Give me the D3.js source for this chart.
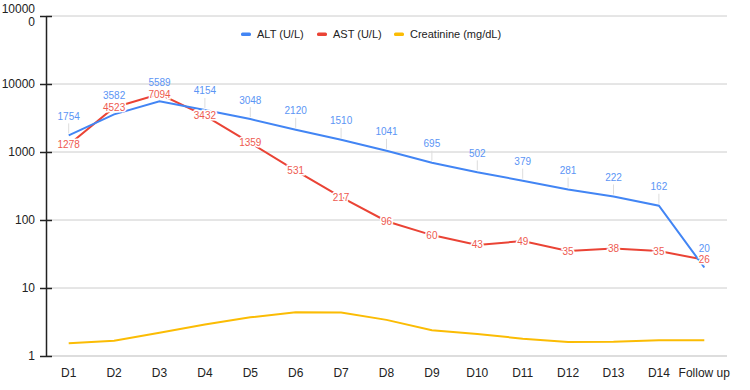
<!DOCTYPE html>
<html>
<head>
<meta charset="utf-8">
<script src="https://cdn.jsdelivr.net/npm/d3@7"></script>
<style>
  body { margin: 0; background: #fff; }
  svg text { font-family: "Liberation Sans", Arial, sans-serif; }
</style>
</head>
<body>
<div id="chart"></div>
<script>
// chart data
const categories = ["D1", "D2", "D3", "D4", "D5", "D6", "D7", "D8", "D9", "D10", "D11", "D12", "D13", "D14", "Follow up"];
const alt = [1754, 3582, 5589, 4154, 3048, 2120, 1510, 1041, 695, 502, 379, 281, 222, 162, 20];
const ast = [1278, 4523, 7094, 3432, 1359, 531, 217, 96, 60, 43, 49, 35, 38, 35, 26];
const creatinine = [1.54, 1.68, 2.2, 2.9, 3.7, 4.4, 4.35, 3.4, 2.4, 2.1, 1.8, 1.6, 1.62, 1.7, 1.7];
const yTicks = [1, 10, 100, 1000, 10000, 100000];
const seriesNames = ["ALT (U/L)", "AST (U/L)", "Creatinine (mg/dL)"];

var width = 750, height = 390;
var margin = {top: 16, right: 23, bottom: 34, left: 46};

var svg = d3.select("#chart")
    .append("svg")
    .attr("width", width)
    .attr("height", height);

const x = d3.scalePoint()
    .domain(categories)
    .range([margin.left, width - margin.right])
    .padding(0.5);

const y = d3.scaleLog()
    .domain([1, 100000])
    .range([height - margin.bottom, margin.top]);

const colors = ["#4285F4", "#EA4335", "#FBBC04"];

// gridlines
svg.append("g")
    .selectAll("line")
    .data(yTicks.slice(1))
    .enter().append("line")
    .attr("x1", margin.left)
    .attr("x2", width - margin.right)
    .attr("y1", d => y(d))
    .attr("y2", d => y(d))
    .attr("stroke", "#cccccc")
    .attr("stroke-width", 1);

// x axis baseline
svg.append("line")
    .attr("x1", margin.left)
    .attr("x2", width - margin.right)
    .attr("y1", y(1))
    .attr("y2", y(1))
    .attr("stroke", "#dddddd")
    .attr("stroke-width", 2);

// y axis
const yAxis = svg.append("g")
    .attr("transform", `translate(${margin.left},0)`)
    .call(d3.axisLeft(y).tickValues(yTicks).tickSize(6).tickSizeOuter(0).tickFormat(""));
yAxis.select(".domain").attr("stroke", "#222").attr("stroke-width", 1.5);
yAxis.selectAll(".tick line").attr("stroke", "#222").attr("stroke-width", 1.5)
    .attr("x1", 6).attr("x2", -6);

// y tick labels (the top one wraps in the original)
yTicks.forEach(function(t) {
    const s = String(t);
    const txt = svg.append("text")
        .attr("x", 35)
        .attr("text-anchor", "end")
        .style("font-size", "12px")
        .attr("fill", "#222");
    if (s.length > 5) {
        txt.attr("y", y(t) - 7).attr("dy", "0.35em");
        txt.append("tspan").attr("x", 35).text(s.slice(0, 5));
        txt.append("tspan").attr("x", 35).attr("dy", 13).text(s.slice(5));
    } else {
        txt.attr("y", y(t)).attr("dy", "0.35em").text(s);
    }
});

// x tick labels
svg.append("g")
    .selectAll("text")
    .data(categories)
    .enter().append("text")
    .attr("x", d => x(d))
    .attr("y", y(1) + 12)
    .attr("dy", "0.71em")
    .attr("text-anchor", "middle")
    .style("font-size", "12px")
    .attr("fill", "#222")
    .text(d => d);

const line = d3.line()
    .x((d, i) => x(categories[i]))
    .y(d => y(d));

[creatinine, ast, alt].forEach(function(data) {
    const idx = [alt, ast, creatinine].indexOf(data);
    svg.append("path")
        .datum(data)
        .attr("fill", "none")
        .attr("stroke", colors[idx])
        .attr("stroke-width", 2)
        .attr("d", line);
});

// ALT labels above the points with leader lines
svg.append("g")
    .selectAll("line")
    .data(alt)
    .enter().append("line")
    .attr("x1", (d, i) => x(categories[i]))
    .attr("x2", (d, i) => x(categories[i]))
    .attr("y1", d => y(d) - 2)
    .attr("y2", d => y(d) - 12)
    .attr("stroke", "#dddddd")
    .attr("stroke-width", 1);

svg.append("g")
    .selectAll("text")
    .data(alt)
    .enter().append("text")
    .attr("x", (d, i) => x(categories[i]))
    .attr("y", d => y(d) - 19)
    .attr("dy", "0.35em")
    .attr("text-anchor", "middle")
    .style("font-size", "10px")
    .attr("fill", "#5b95f5")
    .text(d => d);

// AST labels centred on the points with white halo
svg.append("g")
    .selectAll("text")
    .data(ast)
    .enter().append("text")
    .attr("x", (d, i) => x(categories[i]))
    .attr("y", d => y(d))
    .attr("dy", "0.35em")
    .attr("text-anchor", "middle")
    .style("font-size", "10px")
    .attr("fill", "#ee5a50")
    .attr("stroke", "#fff")
    .attr("stroke-width", 3)
    .attr("paint-order", "stroke")
    .text(d => d);

// legend
const legendX = [241, 317, 394];
const legend = svg.append("g")
    .selectAll("g")
    .data(seriesNames)
    .enter().append("g")
    .attr("transform", (d, i) => `translate(${legendX[i]},34)`);

legend.append("rect")
    .attr("x", 0)
    .attr("y", -1.5)
    .attr("width", 10)
    .attr("height", 3.5)
    .attr("rx", 1.5)
    .attr("fill", (d, i) => colors[i]);

legend.append("text")
    .attr("x", 16)
    .attr("y", 0)
    .attr("dy", "0.35em")
    .style("font-size", "11px")
    .attr("fill", "#222")
    .text(d => d);
</script>
</body>
</html>
